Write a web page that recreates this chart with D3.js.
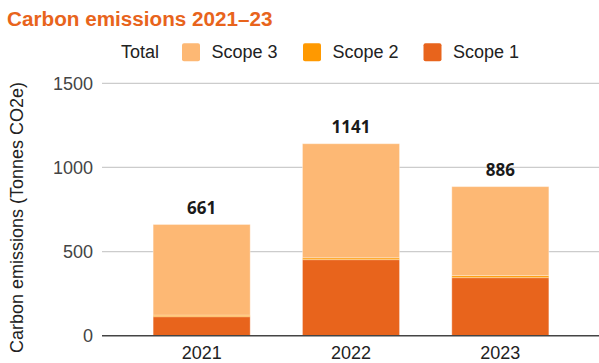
<!DOCTYPE html>
<html>
<head>
<meta charset="utf-8">
<script src="https://cdn.jsdelivr.net/npm/d3@7"></script>
<style>
  html, body { margin: 0; padding: 0; background: #fff; }
  svg { display: block; font-family: "Liberation Sans", Arial, sans-serif; }
</style>
</head>
<body>
<svg id="chart" width="599" height="363"></svg>
<script>
// Emissions by year, in tonnes CO2e
const years = ["2021", "2022", "2023"];
const scope1 = [113, 452, 345];
const scope2 = [9, 11, 12];
const scope3 = [539, 678, 529];
const totals = [661, 1141, 886];
const yTicks = [0, 500, 1000, 1500];

const seriesKeys = ["Scope 1", "Scope 2", "Scope 3"];
const colors = { "Scope 1": "#e8641c", "Scope 2": "#ff9900", "Scope 3": "#fdb874" };

const rows = years.map((y, i) => ({
  year: y, "Scope 1": scope1[i], "Scope 2": scope2[i], "Scope 3": scope3[i], total: totals[i]
}));

const svg = d3.select("#chart");
const plot = { left: 102, right: 599, top: 83.3, bottom: 335.7 };

const x = d3.scaleBand().domain(years).range([127, 575]).paddingInner(0.35).paddingOuter(0.175);
const y = d3.scaleLinear().domain([0, 1500]).range([plot.bottom, plot.top]);

// Title
svg.append("text")
  .attr("x", 7).attr("y", 25.7)
  .attr("fill", "#e8641c")
  .attr("font-size", 20.7).attr("font-weight", "bold")
  .text("Carbon emissions 2021–23");

// Legend
const legend = svg.append("g").attr("font-size", 18).attr("fill", "#222");
legend.append("text").attr("x", 121).attr("y", 58.3).text("Total");
const legendItems = [
  { key: "Scope 3", sx: 182 },
  { key: "Scope 2", sx: 303 },
  { key: "Scope 1", sx: 423.5 }
];
legendItems.forEach(d => {
  legend.append("rect")
    .attr("x", d.sx).attr("y", 43.3).attr("width", 18).attr("height", 18)
    .attr("rx", 2).attr("fill", colors[d.key]);
  legend.append("text").attr("x", d.sx + 29.5).attr("y", 58.3).text(d.key);
});

// Gridlines and y tick labels
const yAxis = svg.append("g");
yAxis.selectAll("line.grid").data(yTicks.filter(t => t > 0)).join("line")
  .attr("class", "grid")
  .attr("x1", plot.left).attr("x2", plot.right)
  .attr("y1", d => y(d)).attr("y2", d => y(d))
  .attr("stroke", "#cccccc").attr("stroke-width", 1.3);
yAxis.selectAll("text").data(yTicks).join("text")
  .attr("x", 93).attr("y", d => y(d) + 6.3)
  .attr("text-anchor", "end").attr("font-size", 18).attr("fill", "#444")
  .text(d => d);

// Stacked bars
const stack = d3.stack().keys(seriesKeys);
const layers = stack(rows);
svg.append("g").selectAll("g").data(layers).join("g")
  .attr("fill", d => colors[d.key])
  .selectAll("rect").data(d => d).join("rect")
  .attr("x", d => x(d.data.year))
  .attr("width", x.bandwidth())
  .attr("y", d => y(d[1]))
  .attr("height", d => y(d[0]) - y(d[1]))
  .attr("stroke", "#ffffff").attr("stroke-opacity", 0.35).attr("stroke-width", 1);

// Baseline
svg.append("line")
  .attr("x1", plot.left).attr("x2", plot.right)
  .attr("y1", y(0)).attr("y2", y(0))
  .attr("stroke", "#444").attr("stroke-width", 1.6);

// Total labels
svg.append("g").selectAll("text").data(rows).join("text")
  .attr("x", d => x(d.year) + x.bandwidth() / 2)
  .attr("y", d => y(d.total) - 10.8)
  .attr("text-anchor", "middle")
  .attr("font-family", "'Noto Sans', 'DejaVu Sans', sans-serif")
  .attr("font-size", 17).attr("font-weight", "bold").attr("fill", "#1a1a1a")
  .text(d => d.total);

// X labels
svg.append("g").selectAll("text").data(years).join("text")
  .attr("x", d => x(d) + x.bandwidth() / 2)
  .attr("y", 359)
  .attr("text-anchor", "middle").attr("font-size", 18).attr("fill", "#222")
  .text(d => d);

// Y axis title
svg.append("text")
  .attr("transform", "translate(23,217.5) rotate(-90)")
  .attr("text-anchor", "middle").attr("font-size", 18).attr("fill", "#222")
  .text("Carbon emissions (Tonnes CO2e)");
</script>
</body>
</html>
